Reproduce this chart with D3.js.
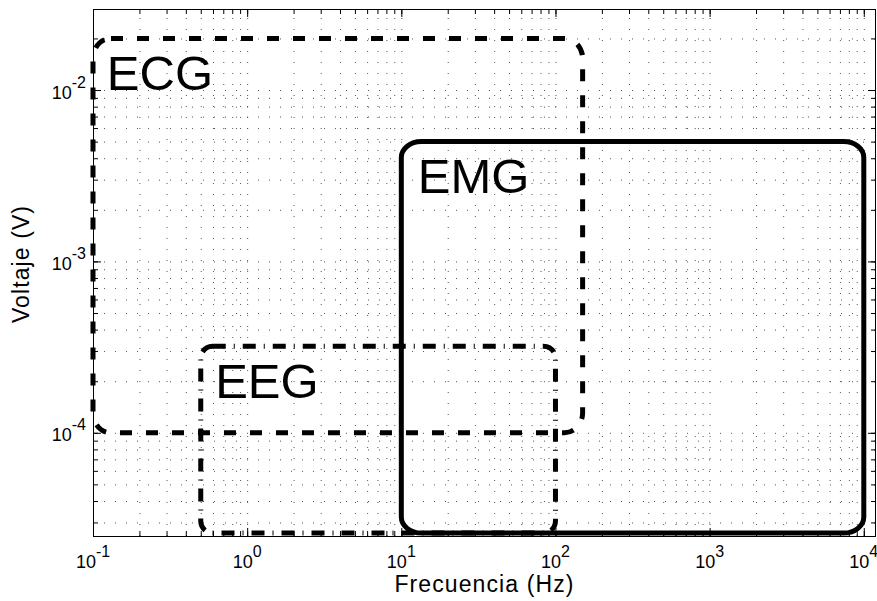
<!DOCTYPE html>
<html>
<head>
<meta charset="utf-8">
<script src="https://cdn.jsdelivr.net/npm/d3@7"></script>
<style>
  body { margin: 0; background: #fff; }
  svg { display: block; font-family: "Liberation Sans", Arial, sans-serif; }
</style>
</head>
<body>
<script>
// rangos de las senales biomedicas (frecuencia en Hz, voltaje en V)
const senales = ["ECG", "EMG", "EEG"];
const freqMin = [0.1, 10, 0.5];
const freqMax = [150, 10000, 100];
const voltMin = [1e-4, 2.6e-5, 2.6e-5];
const voltMax = [2e-2, 5e-3, 3.2e-4];

// posicion de las etiquetas (esquina inferior izquierda del texto)
const etiquetaFreq = [0.123, 12.8, 0.62];
const etiquetaVolt = [1e-2, 2.5e-3, 1.6e-4];

const xTicks = [0.1, 1, 10, 100, 1000, 10000];
const xExpon = ["-1", "0", "1", "2", "3", "4"];
const yTicks = [1e-4, 1e-3, 1e-2];
const yExpon = ["-4", "-3", "-2"];

const ancho = 877, alto = 601;
const m = { top: 9, right: 1, bottom: 65, left: 93 };
const w = ancho - m.left - m.right;
const h = alto - m.top - m.bottom;

const estilo = {
  ECG: { dash: "12,14", rx: 18, ry: 20 },
  EMG: { dash: null, rx: 20, ry: 16 },
  EEG: { dash: "13,8,1,8", rx: 12, ry: 12 }
};

const x = d3.scaleLog().domain([0.1, 1.2e4]).range([0, w]);
const y = d3.scaleLog().domain([2.5e-5, 0.0297]).range([h, 0]);

// ticks menores 1..9 por decada
function menores(dom) {
  const out = [];
  const d0 = Math.floor(Math.log10(dom[0])), d1 = Math.ceil(Math.log10(dom[1]));
  for (let d = d0; d <= d1; d++) {
    for (let k = 1; k <= 9; k++) {
      const v = +(k * Math.pow(10, d)).toPrecision(3);
      if (v >= dom[0] * 0.999 && v <= dom[1]) out.push(v);
    }
  }
  return out;
}
const xMen = menores(x.domain());
const yMen = menores(y.domain());

const svg = d3.select("body").append("svg")
  .attr("width", ancho).attr("height", alto);
const g = svg.append("g").attr("transform", `translate(${m.left},${m.top})`);

// grilla punteada
g.append("g").attr("class", "grid")
  .attr("transform", `translate(0,${h})`)
  .call(d3.axisBottom(x).tickValues(xMen).tickSize(-h).tickFormat(""));
g.append("g").attr("class", "grid")
  .call(d3.axisLeft(y).tickValues(yMen).tickSize(-w).tickFormat(""));
g.selectAll(".grid .domain").remove();
g.selectAll(".grid line")
  .attr("stroke", "#555")
  .attr("stroke-width", 1)
  .attr("stroke-dasharray", "1,10");

// caja y ticks hacia adentro en los cuatro lados
function ejes(gen, tr, vals, len) {
  const a = g.append("g").attr("transform", tr)
    .call(gen.tickValues(vals).tickSize(len).tickFormat(""));
  a.select(".domain").remove();
  a.selectAll("line").attr("stroke", "#000");
  return a;
}
ejes(d3.axisBottom(x), `translate(0,${h})`, xMen, -5);
ejes(d3.axisBottom(x), `translate(0,${h})`, xTicks, -8);
ejes(d3.axisTop(x), "translate(0,0)", xMen, -5);
ejes(d3.axisTop(x), "translate(0,0)", xTicks, -8);
ejes(d3.axisLeft(y), "translate(0,0)", yMen, -5);
ejes(d3.axisLeft(y), "translate(0,0)", yTicks, -8);
ejes(d3.axisRight(y), `translate(${w},0)`, yMen, -5);
ejes(d3.axisRight(y), `translate(${w},0)`, yTicks, -8);

g.append("rect")
  .attr("x", 0.5).attr("y", 0.5)
  .attr("width", w - 1).attr("height", h)
  .attr("fill", "none").attr("stroke", "#000").attr("stroke-width", 1);

// etiquetas de ticks con exponente
const xl = g.append("g").selectAll("text").data(xTicks).join("text")
  .attr("x", d => x(d))
  .attr("y", h + 32)
  .attr("text-anchor", "middle")
  .attr("fill", "#000");
xl.append("tspan").attr("font-size", 18).text("10");
xl.append("tspan").attr("font-size", 16).attr("dy", -11).text((d, i) => xExpon[i]);

const yl = g.append("g").selectAll("text").data(yTicks).join("text")
  .attr("x", -7)
  .attr("y", d => y(d) + 8.5)
  .attr("text-anchor", "end")
  .attr("fill", "#000");
yl.append("tspan").attr("font-size", 18).text("10");
yl.append("tspan").attr("font-size", 16).attr("dy", -11).text((d, i) => yExpon[i]);

// rectangulos redondeados
senales.forEach((s, i) => {
  const st = estilo[s];
  const r = g.append("rect")
    .attr("x", x(freqMin[i]))
    .attr("y", y(voltMax[i]))
    .attr("width", x(freqMax[i]) - x(freqMin[i]))
    .attr("height", y(voltMin[i]) - y(voltMax[i]))
    .attr("rx", st.rx).attr("ry", st.ry)
    .attr("fill", "none")
    .attr("stroke", "#000")
    .attr("stroke-width", 5);
  if (st.dash) r.attr("stroke-dasharray", st.dash);
});

g.append("g").selectAll("text").data(senales).join("text")
  .attr("x", (d, i) => x(etiquetaFreq[i]))
  .attr("y", (d, i) => y(etiquetaVolt[i]))
  .attr("font-size", 49)
  .attr("fill", "#000")
  .text(d => d);

// titulos de ejes
svg.append("text")
  .attr("x", m.left + w / 2)
  .attr("y", 592)
  .attr("text-anchor", "middle")
  .attr("font-size", 23)
  .attr("letter-spacing", 1.1)
  .text("Frecuencia (Hz)");

svg.append("text")
  .attr("transform", `translate(28.5,264) rotate(-90)`)
  .attr("text-anchor", "middle")
  .attr("font-size", 23)
  .attr("letter-spacing", 1.1)
  .text("Voltaje (V)");
</script>
</body>
</html>
